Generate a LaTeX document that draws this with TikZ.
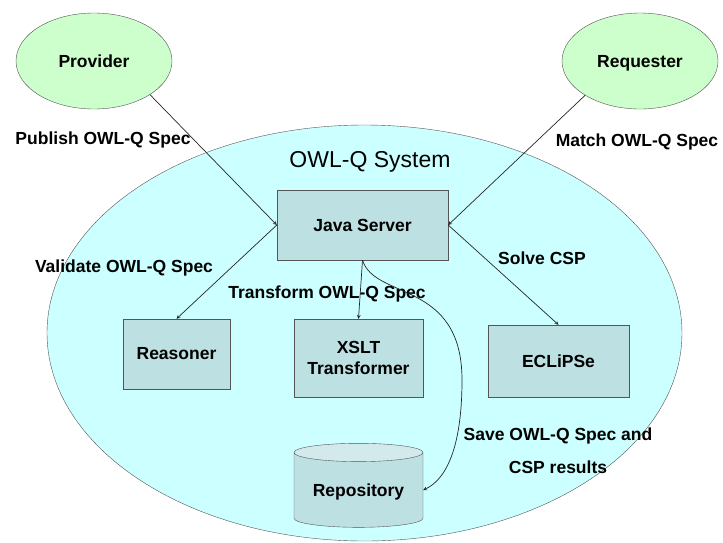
\documentclass[tikz,border=0pt]{standalone}
\usepackage{fontspec}
\setmainfont{Liberation Sans}
\usetikzlibrary{arrows}
\usetikzlibrary{positioning}
\usetikzlibrary{shapes.geometric}

\definecolor{sysfill}{HTML}{CCFFFF}
\definecolor{actorfill}{HTML}{CCFFCC}
\definecolor{compfill}{HTML}{BDE0E2}
\definecolor{capfill}{HTML}{D2EAEC}
\definecolor{edgegray}{HTML}{555555}
\newcommand{\lblfont}{\fontsize{17.5}{33}\selectfont\bfseries}

\begin{document}
\begin{tikzpicture}[x=1pt,y=-1pt,>=stealth,
	actor/.style={ellipse,draw=edgegray,fill=actorfill,inner sep=0pt,text depth=0pt,minimum width=156pt,minimum height=96pt,font=\lblfont},
	comp/.style={rectangle,draw=edgegray,fill=compfill,inner sep=0pt,font=\lblfont,align=center},
	lab/.style={inner sep=0pt,font=\lblfont,align=center},
	link/.style={->,line width=0.7pt,black!85}]
		\useasboundingbox (0,0) rectangle (723,542);
		% system area
		\node[ellipse,draw=edgegray,fill=sysfill,inner sep=0pt,minimum width=635pt,minimum height=416pt] (owlq) at (364.5,333) {};
		\node[inner sep=0pt,font=\fontsize{23}{27}\selectfont] (owlqtitle) at (370,162) {OWL-Q System};
		% actors
		\node[actor] (prov) at (94,61) {Provider};
		\node[actor] (req) at (640,61) {Requester};
		% components
		\node[comp,minimum width=171pt,minimum height=70pt] (java) at (362.5,225) {Java Server};
		\node[comp,minimum width=107pt,minimum height=70pt] (reas) at (176.5,354) {Reasoner};
		\node[comp,minimum width=129pt,minimum height=78pt] (xslt) at (358.5,358) {XSLT\\[-12pt]Transformer};
		\node[comp,minimum width=141pt,minimum height=72pt] (eclipse) at (558.5,361) {ECLiPSe};
		\node[cylinder,shape border rotate=90,aspect=0.2,draw=edgegray,cylinder uses custom fill,cylinder body fill=compfill,cylinder end fill=capfill,inner sep=0pt,text depth=0pt,minimum width=129pt,minimum height=84pt,font=\lblfont] (repo) at (358.5,490) {Repository};
		% labels
		\node[lab] (publish) at (103,140) {Publish OWL-Q Spec};
		\node[lab] (match) at (637,142) {Match OWL-Q Spec};
		\node[lab] (validate) at (124,268) {Validate OWL-Q Spec};
		\node[lab] (transform) at (327,294) {Transform OWL-Q Spec};
		\node[lab] (solve) at (542,258) {Solve CSP};
		\node[lab] (save) at (558,451) {Save OWL-Q Spec and\\CSP results};
		% connectors
		\draw[link] (prov.-31) -- (java.west);
		\draw[link] (req.212) -- (java.east);
		\draw[link] (java.west) -- (reas.north);
		\draw[link] (java.east) -- (eclipse.north);
		\draw[link] (java.south) -- (xslt.north);
		\draw[link] (java.south) .. controls (375,300) and (462,280) .. (462,380) .. controls (462,450) and (445,480) .. (repo.east);
	\end{tikzpicture}
\end{document}
